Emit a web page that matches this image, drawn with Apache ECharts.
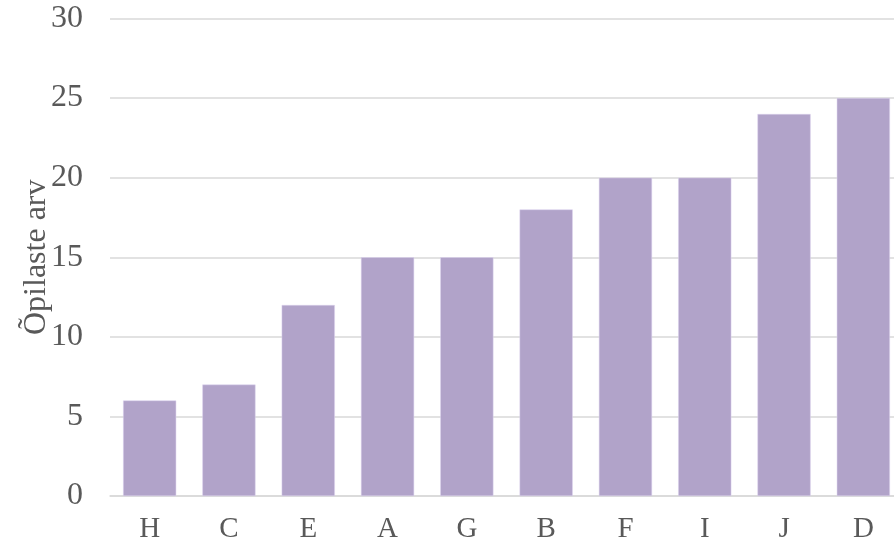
<!DOCTYPE html>
<html>
<head>
<meta charset="utf-8">
<script src="https://cdn.jsdelivr.net/npm/echarts@6/dist/echarts.min.js"></script>
<style>
  html, body { margin: 0; padding: 0; background: #fff; }
  #chart { width: 894px; height: 546px; }
</style>
</head>
<body>
<div id="chart"></div>
<script>
// kategooriad ja väärtused
var categories = ['H', 'C', 'E', 'A', 'G', 'B', 'F', 'I', 'J', 'D'];
var values = [6, 7, 12, 15, 15, 18, 20, 20, 24, 25];
var yTicks = [0, 5, 10, 15, 20, 25, 30];

var chart = echarts.init(document.getElementById('chart'));
var font = '"Liberation Serif", "Times New Roman", serif';

var option = {
  animation: false,
  textStyle: { fontFamily: font },
  grid: {
    left: 110,
    top: 18.5,
    width: 793,
    bottom: 50,
    outerBoundsMode: 'none'
  },
  xAxis: {
    type: 'category',
    data: categories,
    axisLine: { lineStyle: { color: '#d9d9d9', width: 1.5 } },
    axisTick: { show: false },
    axisLabel: {
      color: '#595959',
      fontSize: 29,
      fontFamily: font,
      margin: 19
    }
  },
  yAxis: {
    type: 'value',
    min: yTicks[0],
    max: yTicks[yTicks.length - 1],
    interval: 5,
    name: 'Õpilaste arv',
    nameLocation: 'middle',
    nameGap: 57,
    nameMoveOverlap: false,
    nameTextStyle: { color: '#595959', fontSize: 32, fontFamily: font },
    axisLine: { show: false },
    axisTick: { show: false },
    splitLine: { lineStyle: { color: '#d9d9d9', width: 1.5 } },
    axisLabel: {
      color: '#595959',
      fontSize: 32,
      fontFamily: font,
      margin: 27
    }
  },
  series: [{
    type: 'bar',
    data: values,
    barCategoryGap: '33%',
    itemStyle: { color: '#b1a3c9', borderColor: '#ddd3ee', borderWidth: 0.5 }
  }]
};
chart.setOption(option);
</script>
</body>
</html>
